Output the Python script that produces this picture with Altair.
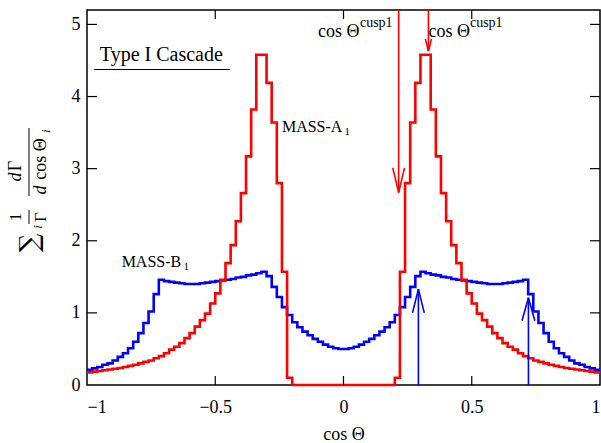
import altair as alt
import pandas as pd
import numpy as np

# ---------------- data ----------------
bin_lo, bin_hi, n_bins = -1.0, 1.0, 100

# MASS-A1 (red) histogram, bins from -1.00 to 1.00 (width 0.02)
red_values = [
    0.175, 0.185, 0.195, 0.205, 0.215, 0.225, 0.235, 0.25, 0.265, 0.28,
    0.30, 0.32, 0.34, 0.37, 0.40, 0.44, 0.49, 0.53, 0.58, 0.65,
    0.72, 0.81, 0.90, 0.99, 1.13, 1.27, 1.46, 1.69, 1.94, 2.27,
    2.66, 3.17, 3.82, 4.58, 4.58, 4.19, 3.64, 2.80, 1.57, 0.10,
    0, 0, 0, 0, 0, 0, 0, 0, 0, 0,
    0, 0, 0, 0, 0, 0, 0, 0, 0, 0,
    0.10, 1.57, 2.80, 3.64, 4.19, 4.58, 4.58, 3.82, 3.17, 2.66,
    2.27, 1.94, 1.69, 1.46, 1.27, 1.13, 0.99, 0.90, 0.81, 0.72,
    0.65, 0.58, 0.53, 0.49, 0.44, 0.40, 0.37, 0.34, 0.32, 0.30,
    0.28, 0.265, 0.25, 0.235, 0.225, 0.215, 0.205, 0.195, 0.185, 0.175,
]

# MASS-B1 (blue) histogram
blue_values = [
    0.21, 0.23, 0.25, 0.28, 0.30, 0.34, 0.39, 0.44, 0.51, 0.60,
    0.72, 0.86, 1.02, 1.26, 1.46, 1.44, 1.43, 1.42, 1.41, 1.40,
    1.40, 1.40, 1.41, 1.42, 1.43, 1.44, 1.45, 1.46, 1.47, 1.49,
    1.50, 1.52, 1.53, 1.55, 1.57, 1.51, 1.36, 1.22, 1.08, 0.97,
    0.87, 0.80, 0.74, 0.69, 0.64, 0.60, 0.56, 0.53, 0.51, 0.50,
    0.50, 0.51, 0.53, 0.56, 0.60, 0.64, 0.69, 0.74, 0.80, 0.87,
    0.97, 1.08, 1.22, 1.36, 1.51, 1.57, 1.55, 1.53, 1.52, 1.50,
    1.49, 1.47, 1.46, 1.45, 1.44, 1.43, 1.42, 1.41, 1.40, 1.40,
    1.40, 1.41, 1.42, 1.43, 1.44, 1.46, 1.26, 1.02, 0.86, 0.72,
    0.60, 0.51, 0.44, 0.39, 0.34, 0.30, 0.28, 0.25, 0.23, 0.21,
]

x_ticks = [-1, -0.5, 0, 0.5, 1]
y_ticks = [0, 1, 2, 3, 4, 5]
x_domain = [-1, 1]
y_domain = [0, 5.2]

# arrows: (series, x, y_start, y_tip)
arrow_series = ["red", "red", "blue", "blue"]
arrow_x = [0.215, 0.331, 0.292, 0.721]
arrow_from = [5.2, 5.2, 0.0, 0.0]
arrow_tip = [2.67, 4.63, 1.33, 1.21]
arrow_head_dx = [0.023, 0.012, 0.023, 0.025]
arrow_head_dy = [0.34, 0.17, 0.33, 0.32]

# ---------------- build tables ----------------
edges = np.linspace(bin_lo, bin_hi, n_bins + 1)


def step_rows(vals, name):
    rows = []
    for i, v in enumerate(vals):
        rows.append({"x": edges[i], "y": v, "series": name, "o": 2 * i})
        rows.append({"x": edges[i + 1], "y": v, "series": name, "o": 2 * i + 1})
    return rows


hist = pd.DataFrame(step_rows(blue_values, "blue") + step_rows(red_values, "red"))

segs = []
for s, x, y0, yt, hdx, hdy in zip(arrow_series, arrow_x, arrow_from, arrow_tip,
                                  arrow_head_dx, arrow_head_dy):
    sign = 1 if y0 > yt else -1
    segs.append({"x": x, "y": y0, "x2": x, "y2": yt, "series": s})
    segs.append({"x": x - hdx, "y": yt + sign * hdy, "x2": x, "y2": yt, "series": s})
    segs.append({"x": x + hdx, "y": yt + sign * hdy, "x2": x, "y2": yt, "series": s})
arrows = pd.DataFrame(segs)

# inward ticks on all four sides
tick_len_y = 0.125  # in y units
tick_len_x = 0.039  # in x units
trows = []
for t in x_ticks[1:-1]:
    trows.append({"x": t, "y": y_domain[0], "x2": t, "y2": y_domain[0] + tick_len_y})
    trows.append({"x": t, "y": y_domain[1] - tick_len_y, "x2": t, "y2": y_domain[1]})
for t in y_ticks[1:]:
    trows.append({"x": x_domain[0], "y": t, "x2": x_domain[0] + tick_len_x, "y2": t})
    trows.append({"x": x_domain[1] - tick_len_x, "y": t, "x2": x_domain[1], "y2": t})
ticks = pd.DataFrame(trows)

# text labels in data coordinates
labels = pd.DataFrame([
    {"x": -0.95, "y": 4.49, "text": "Type I Cascade", "fs": 20},
    {"x": -0.24, "y": 3.51, "text": "MASS-A", "fs": 16},
    {"x": 0.004, "y": 3.46, "text": "1", "fs": 11},
    {"x": -0.865, "y": 1.64, "text": "MASS-B", "fs": 16},
    {"x": -0.624, "y": 1.59, "text": "1", "fs": 11},
    {"x": -0.099, "y": 4.82, "text": "cos Θ", "fs": 18},
    {"x": 0.064, "y": 4.97, "text": "cusp1", "fs": 14},
    {"x": 0.331, "y": 4.82, "text": "cos Θ", "fs": 18},
    {"x": 0.493, "y": 4.97, "text": "cusp1", "fs": 14},
])
underline = pd.DataFrame([{"x": -0.973, "x2": -0.443, "y": 4.375}])

FONT = "Liberation Serif"

xs = alt.Scale(domain=x_domain, nice=False, zero=False)
ys = alt.Scale(domain=y_domain, nice=False, zero=False)
cscale = alt.Scale(domain=["blue", "red"], range=["#0000ff", "#ff0000"])

x_axis = alt.Axis(values=x_ticks, ticks=False, grid=False, domain=False,
                  labelExpr="datum.value == 0 ? '0' : (datum.value < 0 ? '\u2212' : '') + format(abs(datum.value), '.1~f')",
                  labelFont=FONT, labelFontSize=18, labelPadding=13, labelColor="black",
                  title="cos Θ", titleFont=FONT, titleFontSize=18, titleFontWeight="normal",
                  titleColor="black", titleBaseline="alphabetic", titleY=54)
y_axis = alt.Axis(values=y_ticks, ticks=False, grid=False, domain=False, format="d",
                  labelFont=FONT, labelFontSize=18, labelPadding=7, labelColor="black",
                  title=None)

base_hist = alt.Chart(hist).mark_line(strokeWidth=2.6, interpolate="linear").encode(
    x=alt.X("x:Q", scale=xs, axis=x_axis),
    y=alt.Y("y:Q", scale=ys, axis=y_axis),
    color=alt.Color("series:N", scale=cscale, legend=None),
    detail="series:N",
    order="o:Q",
)

blue_line = base_hist.transform_filter(alt.datum.series == "blue")
red_line = base_hist.transform_filter(alt.datum.series == "red")

arrow_layer = alt.Chart(arrows).mark_rule(strokeWidth=1.6).encode(
    x=alt.X("x:Q", scale=xs), y=alt.Y("y:Q", scale=ys),
    x2="x2:Q", y2="y2:Q",
    color=alt.Color("series:N", scale=cscale, legend=None),
)

tick_layer = alt.Chart(ticks).mark_rule(strokeWidth=1.2, color="black").encode(
    x=alt.X("x:Q", scale=xs), y=alt.Y("y:Q", scale=ys), x2="x2:Q", y2="y2:Q",
)

text_layer = alt.Chart(labels).mark_text(font=FONT, baseline="alphabetic", align="left",
                                         color="black").encode(
    x=alt.X("x:Q", scale=xs), y=alt.Y("y:Q", scale=ys),
    text="text:N",
    size=alt.Size("fs:Q", scale=None, legend=None),
)

under_layer = alt.Chart(underline).mark_rule(strokeWidth=1.2, color="black").encode(
    x=alt.X("x:Q", scale=xs), x2="x2:Q", y=alt.Y("y:Q", scale=ys),
)


# y-axis title built from pieces (pixel positions relative to the plot area)
def ytxt(text, x, y, fs, style="normal", font=FONT):
    return alt.Chart(pd.DataFrame({"t": [text]})).mark_text(
        font=font, fontSize=fs, angle=270, align="center", baseline="middle",
        fontStyle=style, color="black"
    ).encode(text="t:N", x=alt.value(x), y=alt.value(y))


def yrule(x, y1, y2):
    return alt.Chart(pd.DataFrame({"a": [0]})).mark_rule(color="black", strokeWidth=1).encode(
        x=alt.value(x), y=alt.value(y1), y2=alt.value(y2))


ylab = [
    ytxt("∑", -57, 233, 26, font="DejaVu Serif"),
    ytxt("i", -49, 217, 13, "italic"),
    ytxt("1", -71, 207, 17),
    yrule(-58, 200, 214),
    ytxt("Γ", -46, 207, 17),
    ytxt("d", -71, 167, 18, "italic"),
    ytxt("Γ", -71, 156, 18),
    yrule(-58, 118, 186),
    ytxt("d", -46, 180, 18, "italic"),
    ytxt("cos Θ", -46, 149, 18),
    ytxt("i", -41, 121, 12, "italic"),
]

chart = alt.layer(
    blue_line, red_line, arrow_layer, tick_layer, text_layer, under_layer, *ylab
).properties(
    width=513, height=375,
    autosize=alt.AutoSizeParams(type="none"),
    padding={"left": 87, "top": 10, "right": 1, "bottom": 58},
).configure_view(stroke="black", strokeWidth=1.5).configure_axis(grid=False)

chart.save("out.html", embed_options={"renderer": "svg", "actions": False})
